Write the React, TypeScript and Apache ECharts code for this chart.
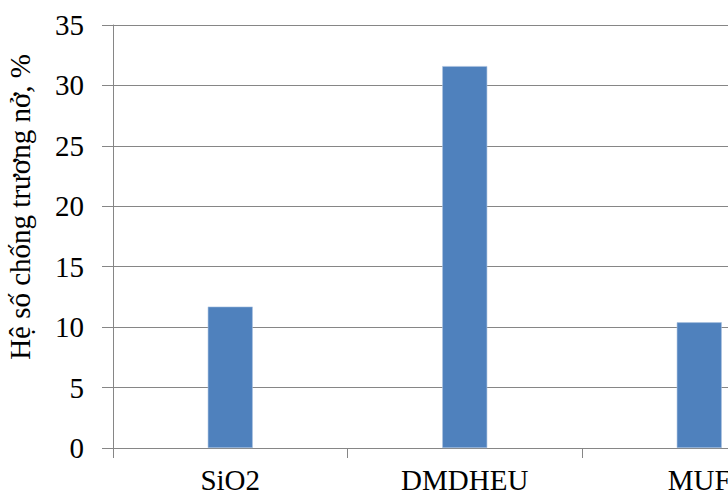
import React, { useEffect, useRef } from "react";
import * as echarts from "echarts";

const categories = ["SiO2", "DMDHEU", "MUF"];
const values = [11.7, 31.6, 10.4];
const yTicks = { min: 0, max: 35, interval: 5 };
const yTitle = "Hệ số chống trương nở, %";

const FONT = "Liberation Serif";
const GRAY = "#868686";

export default function App() {
  const ref = useRef<HTMLDivElement>(null);

  useEffect(() => {
    if (!ref.current) return;
    const chart = echarts.init(ref.current, undefined, { renderer: "svg" });
    chart.setOption({
      animation: false,
      backgroundColor: "#ffffff",
      textStyle: { fontFamily: FONT },
      grid: { left: 113, top: 25, width: 703.5, height: 423, containLabel: false },
      xAxis: {
        type: "category",
        data: categories,
        boundaryGap: true,
        axisLine: { show: true, lineStyle: { color: GRAY, width: 1 } },
        axisTick: { show: true, length: 10, alignWithLabel: false, lineStyle: { color: GRAY } },
        axisLabel: {
          color: "#000",
          fontFamily: FONT,
          fontSize: 29,
          margin: 17,
        },
        splitLine: { show: false },
      },
      yAxis: {
        type: "value",
        min: yTicks.min,
        max: yTicks.max,
        interval: yTicks.interval,
        axisLine: { show: true, lineStyle: { color: GRAY, width: 1 } },
        axisTick: { show: true, length: 11, lineStyle: { color: GRAY } },
        axisLabel: {
          color: "#000",
          fontFamily: FONT,
          fontSize: 29,
          margin: 29,
        },
        splitLine: { show: true, lineStyle: { color: GRAY, width: 1 } },
      },
      graphic: [
        {
          type: "text",
          x: 19.5,
          y: 207,
          rotation: Math.PI / 2,
          style: {
            text: yTitle,
            fontFamily: FONT,
            fontSize: 29,
            fill: "#000",
            align: "center",
            verticalAlign: "middle",
          },
        },
      ],
      series: [
        {
          type: "bar",
          data: values,
          barWidth: 45,
          itemStyle: { color: "#4F81BD", borderColor: "#A9C1DF", borderWidth: 0.6 },
        },
      ],
    });
    return () => chart.dispose();
  }, []);

  return (
    <div
      style={{
        position: "fixed",
        left: 0,
        top: 0,
        width: 728,
        height: 494,
        overflow: "hidden",
        background: "#fff",
      }}
    >
      <div ref={ref} style={{ width: 850, height: 494 }} />
    </div>
  );
}
